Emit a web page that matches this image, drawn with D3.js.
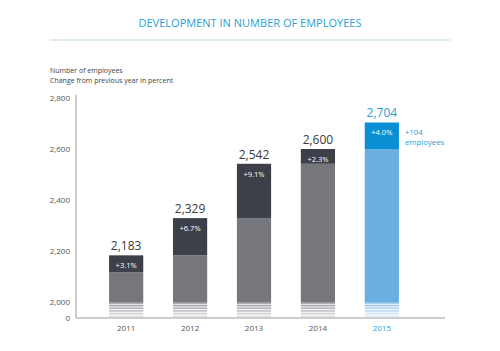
<!DOCTYPE html>
<html>
<head>
<meta charset="utf-8">
<script src="https://cdnjs.cloudflare.com/ajax/libs/d3/7.8.5/d3.min.js"></script>
<style>
  body { margin: 0; background: #fff; }
  svg { display: block; font-family: "Open Sans", sans-serif; }
</style>
</head>
<body>
<div class="container"></div>
<script>
const width = 500;
const height = 351;

// data
const years = ["2011", "2012", "2013", "2014", "2015"];
const totals = [2183, 2329, 2542, 2600, 2704];
const previous = [2117, 2183, 2329, 2542, 2600];
const changes = ["+3.1%", "+6.7%", "+9.1%", "+2.3%", "+4.0%"];
const yTicks = [0, 2000, 2200, 2400, 2600, 2800];

const data = years.map((y, i) => ({ year: y, total: totals[i], prev: previous[i], change: changes[i] }));

const blue = "#2a9fd6";

const svg = d3.select(".container")
    .append("svg")
    .attr("width", width)
    .attr("height", height);

// title
svg.append("text")
    .attr("x", 250)
    .attr("y", 27)
    .attr("text-anchor", "middle")
    .attr("fill", blue)
    .attr("font-size", "11.5px")
    .attr("textLength", 223)
    .attr("lengthAdjust", "spacingAndGlyphs")
    .text("DEVELOPMENT IN NUMBER OF EMPLOYEES");

svg.append("line")
    .attr("x1", 50).attr("x2", 450)
    .attr("y1", 40).attr("y2", 40)
    .attr("stroke", "#d3e6ec")
    .attr("stroke-width", 1.5);

svg.append("text")
    .attr("x", 50).attr("y", 73)
    .attr("font-size", "7px")
    .attr("fill", "#444")
    .text("Number of employees");
svg.append("text")
    .attr("x", 50).attr("y", 83)
    .attr("font-size", "7px")
    .attr("fill", "#444")
    .text("Change from previous year in percent");

// broken scale: 0..2000 squeezed into the bottom strip
const yScale = d3.scaleLinear()
    .domain([0, 2000, 2800])
    .range([318, 302, 98]);

const xScale = d3.scaleBand()
    .domain(years)
    .range([95, 413])
    .paddingInner(0.465)
    .paddingOuter(0.22);

const bars = svg.append("g")
    .selectAll("g")
    .data(data)
    .join("g")
    .attr("transform", d => `translate(${xScale(d.year)},0)`);

const bw = xScale.bandwidth();
const last = d => d.year === "2015";

// main body of bar (previous year level, from 2000 up)
bars.append("rect")
    .attr("x", 0)
    .attr("width", bw)
    .attr("y", d => yScale(d.prev))
    .attr("height", d => yScale(2000) - yScale(d.prev))
    .attr("fill", d => last(d) ? "#69afe0" : "#76777d");

// increase part
bars.append("rect")
    .attr("x", 0)
    .attr("width", bw)
    .attr("y", d => yScale(d.total))
    .attr("height", d => yScale(d.prev) - yScale(d.total))
    .attr("fill", d => last(d) ? "#0b8fd4" : "#3e4049");

// fading stripes for the axis break (0 to 2000)
const stripes = d3.range(6);
bars.each(function (d) {
    d3.select(this).selectAll(".stripe")
        .data(stripes)
        .join("rect")
        .attr("class", "stripe")
        .attr("x", 0)
        .attr("width", bw)
        .attr("y", s => yScale(2000) + s * 2.67)
        .attr("height", 1.8)
        .attr("fill", last(d) ? "#69afe0" : "#76777d")
        .attr("opacity", s => 0.75 - s * 0.11);
});

// percent label
bars.append("text")
    .attr("x", bw / 2)
    .attr("y", d => yScale(d.total) + 13)
    .attr("text-anchor", "middle")
    .attr("font-size", "7.5px")
    .attr("fill", "#fff")
    .text(d => d.change);

// total label
bars.append("text")
    .attr("x", bw / 2)
    .attr("y", d => yScale(d.total) - 5)
    .attr("text-anchor", "middle")
    .attr("font-size", "12px")
    .attr("fill", d => last(d) ? blue : "#3a3a3a")
    .text(d => d3.format(",")(d.total));

// annotation next to 2015
const lastX = xScale("2015") + bw + 6;
svg.append("text")
    .attr("x", lastX).attr("y", yScale(2704) + 13)
    .attr("font-size", "7.8px").attr("fill", blue)
    .text("+104");
svg.append("text")
    .attr("x", lastX).attr("y", yScale(2704) + 23)
    .attr("font-size", "7.8px").attr("fill", blue)
    .text("employees");

// axes
const yAxis = d3.axisLeft(yScale)
    .tickValues(yTicks)
    .tickSize(0)
    .tickPadding(6)
    .tickFormat(d3.format(","));

const yg = svg.append("g")
    .attr("transform", "translate(76,0)")
    .call(yAxis);
yg.select(".domain").attr("stroke", "#9a9a9a").attr("d", "M0,95V318");
yg.selectAll("text").attr("font-size", "8px").attr("fill", "#555").attr("font-family", "Open Sans");

const xAxis = d3.axisBottom(xScale).tickSize(0).tickPadding(7);
const xg = svg.append("g")
    .attr("transform", "translate(0,318)")
    .call(xAxis);
xg.select(".domain").attr("stroke", "#9a9a9a").attr("d", "M76,0H445");
xg.selectAll("text")
    .attr("font-size", "8px")
    .attr("font-family", "Open Sans")
    .attr("fill", d => d === "2015" ? blue : "#555");
</script>
</body>
</html>
